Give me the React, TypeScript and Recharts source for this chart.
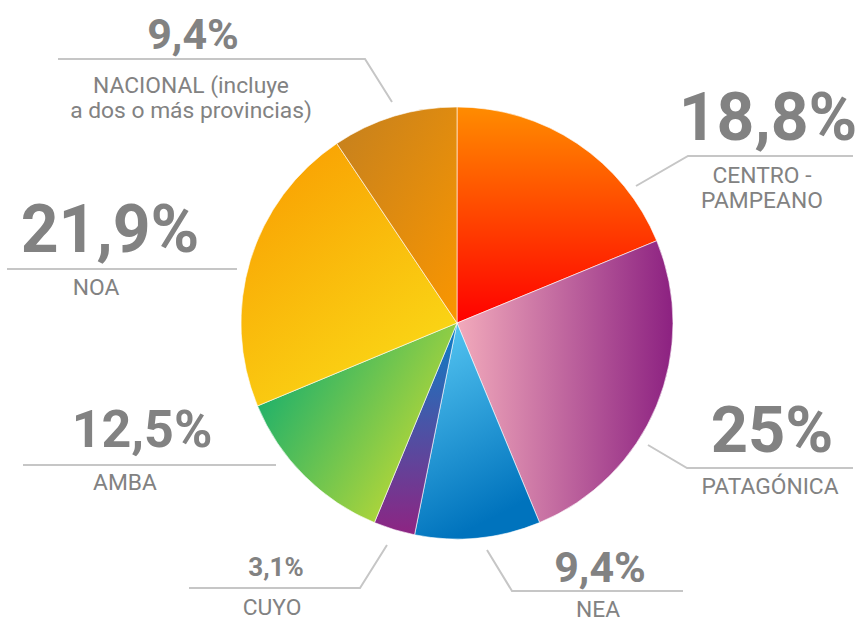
import React from "react";
import { PieChart, Pie, Cell } from "recharts";

const regions = ["CENTRO - PAMPEANO", "PATAGÓNICA", "NEA", "CUYO", "AMBA", "NOA", "NACIONAL (incluye a dos o más provincias)"];
const shares = [18.8, 25, 9.4, 3.1, 12.5, 21.9, 9.4];
const valueLabels = ["18,8%", "25%", "9,4%", "3,1%", "12,5%", "21,9%", "9,4%"];
const nameLines = [["CENTRO -", "PAMPEANO"], ["PATAGÓNICA"], ["NEA"], ["CUYO"], ["AMBA"], ["NOA"], ["NACIONAL (incluye", "a dos o más provincias)"]];

const data = regions.map((name, i) => ({ name, value: shares[i] }));

// gradient definitions per slice: [x1,y1,x2,y2, colorStart, colorEnd]
const gradients: [number, number, number, number, string, string][] = [
  [0, 0, 0, 1, "#FF8C00", "#FF0000"],
  [0, 0, 1, 0, "#F2AABB", "#8C2181"],
  [0, 0, 0.3, 1, "#5BCBF5", "#0073BD"],
  [0, 0, 0, 1, "#0A80C8", "#8E2482"],
  [0, 0.2, 1, 0.8, "#10AD6F", "#D3DE2E"],
  [0, 0, 0.6, 1, "#F99A00", "#FAD716"],
  [0, 0, 1, 1, "#C4801F", "#FA9600"],
];

// annotation layout: leader line points, value text (x, y, size), name text (x, y0)
const layout = [
  { line: [[636, 186], [688, 156], [853, 156]], vx: 768, vy: 140, vs: 66, nx: 762, ny: 183 },
  { line: [[648, 445], [687, 468], [853, 468]], vx: 772, vy: 452, vs: 65, nx: 770, ny: 494 },
  { line: [[487, 550], [512, 591], [683, 591]], vx: 600, vy: 582, vs: 43, nx: 598, ny: 617 },
  { line: [[387, 545], [360, 588], [189, 588]], vx: 276, vy: 576, vs: 26, nx: 272, ny: 615 },
  { line: [[276, 465], [23, 465]], vx: 142, vy: 447, vs: 52, nx: 125, ny: 490 },
  { line: [[237, 269], [7, 269]], vx: 110, vy: 252, vs: 66, nx: 96, ny: 295 },
  { line: [[392, 102], [365, 59], [58, 59]], vx: 193, vy: 49, vs: 43, nx: 191, ny: 93 },
];

const TEXT = "#828282";
const LINE = "#C6C6C6";
const FONT = "Roboto, 'Noto Sans', sans-serif";

const renderLabel = (props: any) => {
  const i = props.index;
  const l = layout[i];
  if (!l) return null;
  const pts = l.line.map((p) => p.join(",")).join(" ");
  return (
    <g key={`lab-${i}`}>
      <polyline points={pts} fill="none" stroke={LINE} strokeWidth={2} />
      <text x={l.vx} y={l.vy} textAnchor="middle" fill={TEXT} fontFamily={FONT} fontWeight={700} fontSize={l.vs}>
        {valueLabels[i]}
      </text>
      {nameLines[i].map((t, j) => (
        <text key={j} x={l.nx} y={l.ny + j * 25} textAnchor="middle" fill={TEXT} fontFamily={FONT} fontWeight={400} fontSize={22.8}>
          {t}
        </text>
      ))}
    </g>
  );
};

export default function App() {
  return (
    <div style={{ width: 859, height: 620, background: "#fff" }}>
      <style>{`body{margin:0;background:#fff}`}</style>
      <PieChart width={859} height={620} margin={{ top: 0, right: 0, bottom: 0, left: 0 }}>
        <defs>
          {gradients.map((g, i) => (
            <linearGradient key={i} id={`grad${i}`} x1={g[0]} y1={g[1]} x2={g[2]} y2={g[3]}>
              <stop offset="0%" stopColor={g[4]} />
              <stop offset="100%" stopColor={g[5]} />
            </linearGradient>
          ))}
        </defs>
        <Pie
          data={data}
          dataKey="value"
          nameKey="name"
          cx={457}
          cy={323}
          outerRadius={216}
          innerRadius={0}
          startAngle={90}
          endAngle={-270}
          stroke="#ffffff"
          strokeWidth={0.6}
          label={renderLabel}
          labelLine={false}
          isAnimationActive={false}
        >
          {data.map((d, i) => (
            <Cell key={d.name} fill={`url(#grad${i})`} />
          ))}
        </Pie>
      </PieChart>
    </div>
  );
}
